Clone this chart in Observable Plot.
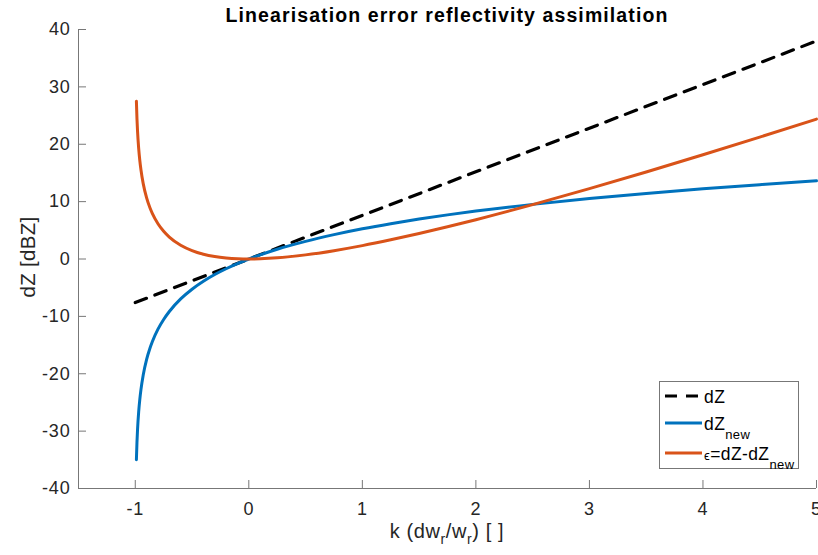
<!DOCTYPE html>
<html><head><meta charset="utf-8">
<script src="https://cdn.jsdelivr.net/npm/d3@7"></script>
<script src="https://cdn.jsdelivr.net/npm/@observablehq/plot@0.6"></script>
<style>body{margin:0;background:#fff}</style>
</head><body><div id="chart"></div>
<script>
// k values (x) and the two curves
const k      = [-0.99, -0.985, -0.98, -0.97, -0.96, -0.95, -0.93, -0.9, -0.87, -0.85, -0.8, -0.75, -0.7, -0.6, -0.5, -0.4, -0.3, -0.2, -0.1, -0.05, 0, 0.1, 0.25, 0.5, 0.75, 1, 1.25, 1.5, 1.75, 2, 2.5, 3, 3.5, 4, 4.5, 5];
const dZnew  = [-35.0, -31.92, -29.73, -26.65, -24.46, -22.77, -20.21, -17.5, -15.51, -14.42, -12.23, -10.54, -9.15, -6.96, -5.27, -3.88, -2.71, -1.70, -0.80, -0.39, 0, 0.72, 1.70, 3.08, 4.25, 5.27, 6.16, 6.96, 7.69, 8.35, 9.52, 10.54, 11.43, 12.23, 12.96, 13.62];
const epsErr = [27.48, 24.43, 22.28, 19.28, 17.17, 15.55, 13.14, 10.66, 8.89, 7.96, 6.15, 4.84, 3.83, 2.40, 1.47, 0.84, 0.43, 0.18, 0.04, 0.01, 0, 0.04, 0.20, 0.72, 1.45, 2.33, 3.34, 4.44, 5.61, 6.85, 9.48, 12.26, 15.17, 18.17, 21.24, 24.38];
// linear dZ (dashed)
const kLinear  = [-1, 5];
const dZLinear = [-7.6, 38];
// ticks
const xTicks = [-1, 0, 1, 2, 3, 4, 5];
const yTicks = [-40, -30, -20, -10, 0, 10, 20, 30, 40];

const blue = "#0072BD", orange = "#D95319";
const curves = k.map((kk, i) => ({k: kk, dZnew: dZnew[i], eps: epsErr[i]}));
const linear = kLinear.map((kk, i) => ({k: kk, dZ: dZLinear[i]}));

const W = 818, H = 555, mL = 78, mR = 2, mT = 29, mB = 67;
const frameW = W - mL - mR, frameH = H - mT - mB;

const svg = Plot.plot({
  width: W, height: H,
  marginLeft: mL, marginRight: mR, marginTop: mT, marginBottom: mB,
  style: {fontFamily: "'Liberation Sans', Arial, sans-serif", fontSize: "18px", color: "#262626", background: "#fff", letterSpacing: "0.8px"},
  x: {domain: [-1.5, 5]},
  y: {domain: [-40, 40]},
  marks: [
    Plot.line(linear, {x: "k", y: "dZ", stroke: "#000", strokeWidth: 3.2, strokeDasharray: "12,9"}),
    Plot.line(curves, {x: "k", y: "dZnew", stroke: blue, strokeWidth: 3, curve: "monotone-x"}),
    Plot.line(curves, {x: "k", y: "eps", stroke: orange, strokeWidth: 3, curve: "monotone-x"}),
    Plot.ruleX([-1.5], {stroke: "#777", strokeWidth: 1}),
    Plot.ruleY([-40], {stroke: "#777", strokeWidth: 1}),
    Plot.tickX(xTicks, {x: d => d, stroke: "#777", insetTop: frameH - 8}),
    Plot.tickY(yTicks, {y: d => d, stroke: "#777", insetRight: frameW - 8}),
    Plot.axisX({ticks: xTicks, tickSize: 0, tickPadding: 14, tickFormat: d => String(d), label: null, fill: "#262626"}),
    Plot.axisY({ticks: yTicks, tickSize: 0, tickPadding: 8, tickFormat: d => String(d), label: null, fill: "#262626"})
  ]
});
document.getElementById("chart").appendChild(svg);

const s = d3.select(svg);
const font = "'Liberation Sans', Arial, sans-serif";
// title
s.append("text").attr("x", (mL + W - mR) / 2).attr("y", 22).attr("text-anchor", "middle")
  .attr("font-family", font).attr("font-weight", "bold").attr("font-size", 19.5).attr("letter-spacing", "1.1px").attr("fill", "#000")
  .text("Linearisation error reflectivity assimilation");
// y label
s.append("text").attr("transform", `translate(35,257) rotate(-90)`).attr("text-anchor", "middle")
  .attr("font-family", font).attr("font-size", 20.5).attr("letter-spacing", "0.3px").attr("fill", "#262626")
  .text("dZ [dBZ]");
// x label with subscripts
const xl = s.append("text").attr("x", (mL + W - mR) / 2).attr("y", 538).attr("text-anchor", "middle")
  .attr("font-family", font).attr("font-size", 20).attr("letter-spacing", "0.6px").attr("fill", "#262626");
xl.append("tspan").text("k (dw");
xl.append("tspan").attr("font-size", 14).attr("dy", 6).text("r");
xl.append("tspan").attr("dy", -6).text("/w");
xl.append("tspan").attr("font-size", 14).attr("dy", 6).text("r");
xl.append("tspan").attr("dy", -6).text(") [ ]");

// legend
const lg = s.append("g").attr("font-family", font).attr("fill", "#000").attr("letter-spacing", "0.4px").attr("text-anchor", "start");
lg.append("rect").attr("x", 659.5).attr("y", 381.5).attr("width", 139).attr("height", 87)
  .attr("fill", "#fff").attr("stroke", "#777").attr("stroke-width", 1);
const rows = [
  {y: 396, stroke: "#000", dash: "12,9", main: "dZ", sub: null, eps: false},
  {y: 423, stroke: blue, dash: null, main: "dZ", sub: "new", eps: false},
  {y: 453, stroke: orange, dash: null, main: "=dZ-dZ", sub: "new", eps: true}
];
rows.forEach(r => {
  lg.append("line").attr("x1", 665).attr("x2", 702).attr("y1", r.y).attr("y2", r.y)
    .attr("stroke", r.stroke).attr("stroke-width", r.dash ? 3.2 : 3).attr("stroke-dasharray", r.dash);
  const t = lg.append("text").attr("x", 704).attr("y", r.y + 7).attr("font-size", 17.5).attr("text-anchor", "start");
  if (r.eps) t.append("tspan").attr("font-size", 13).text("ϵ");
  t.append("tspan").text(r.main);
  if (r.sub) t.append("tspan").attr("font-size", 13).attr("dy", 9).text(r.sub);
});
</script>
</body></html>
